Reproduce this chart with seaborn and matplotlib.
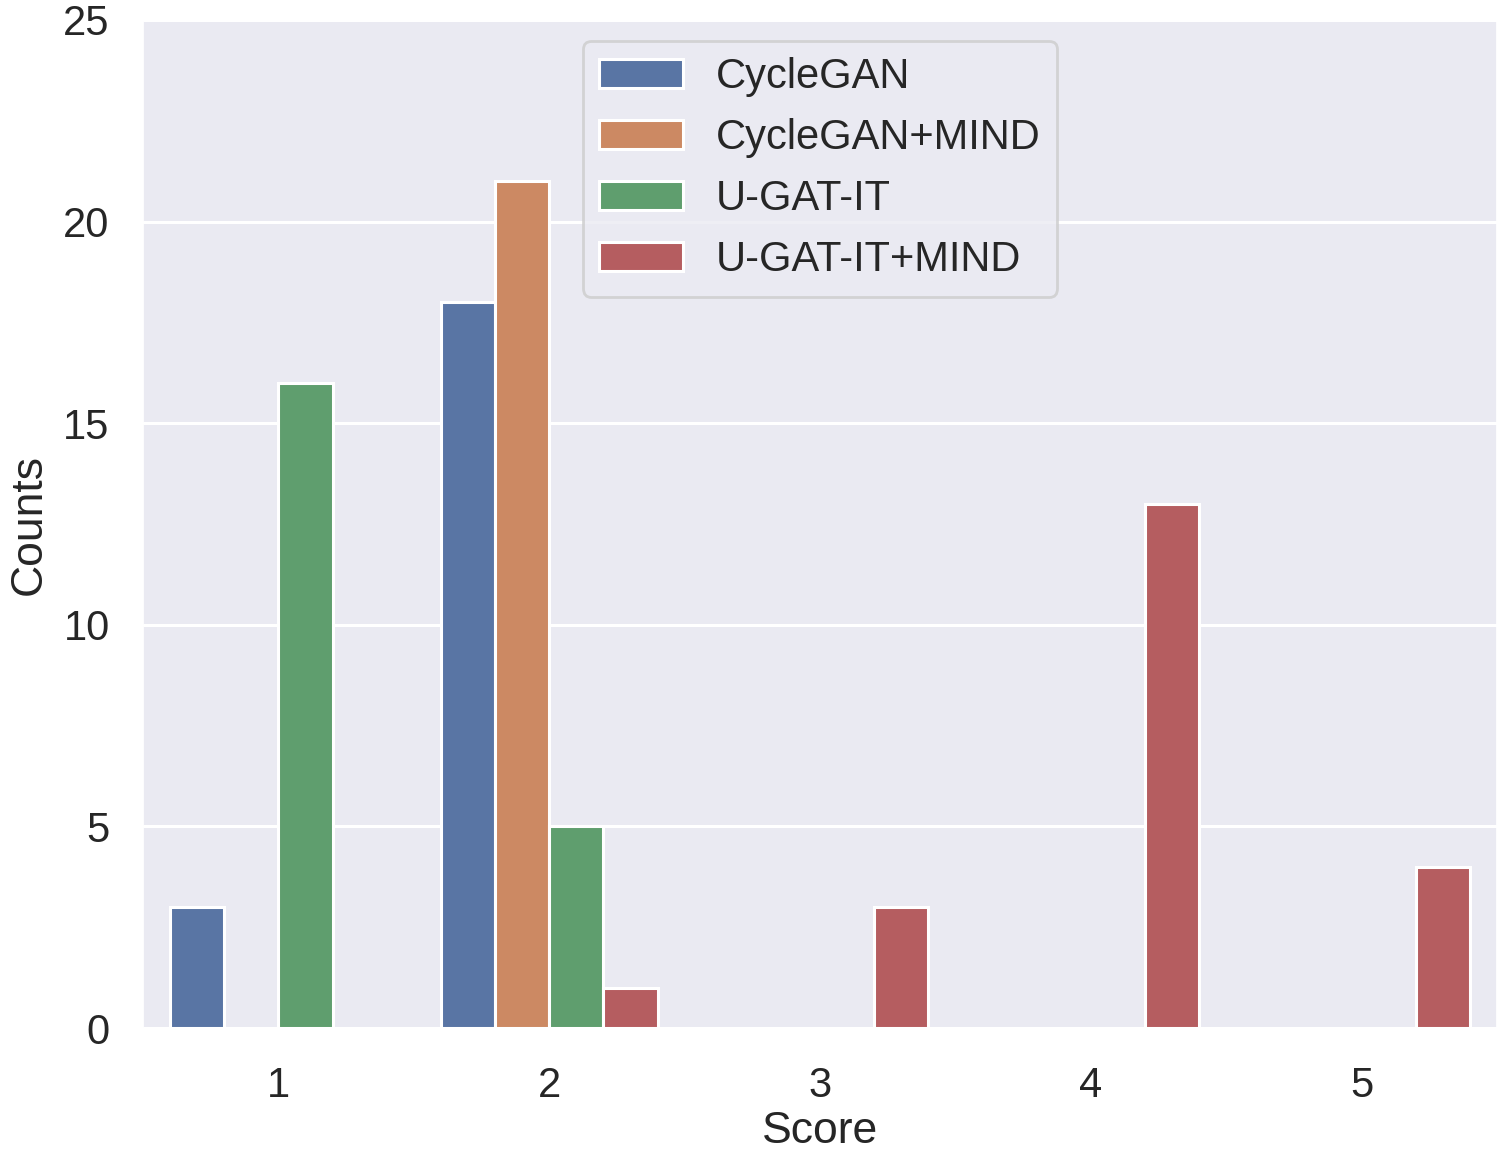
import matplotlib
matplotlib.use("Agg")
import matplotlib.pyplot as plt
import seaborn as sns
import pandas as pd

# 数据
scores = [1, 2, 3, 4, 5]
methods = ['CycleGAN', 'CycleGAN+MIND', 'U-GAT-IT', 'U-GAT-IT+MIND']
cyclegan = [3, 18, 0, 0, 0]
cyclegan_mind = [0, 21, 0, 0, 0]
ugatit = [16, 5, 0, 0, 0]
ugatit_mind = [0, 1, 3, 13, 4]

sns.set_theme(style="darkgrid")
plt.rcParams['font.family'] = ['Liberation Sans', 'DejaVu Sans']

rows = []
for name, vals in zip(methods, [cyclegan, cyclegan_mind, ugatit, ugatit_mind]):
    for s, v in zip(scores, vals):
        rows.append({'Score': s, 'Counts': v, 'Method': name})
df = pd.DataFrame(rows)

fig, ax = plt.subplots(figsize=(14.99, 11.56), dpi=100)
fig.subplots_adjust(left=0.0954, right=0.9987, top=0.9827, bottom=0.1107)

sns.barplot(data=df, x='Score', y='Counts', hue='Method', hue_order=methods,
            edgecolor='white', linewidth=2.2, ax=ax)

ax.set_ylim(0, 25)
ax.set_yticks([0, 5, 10, 15, 20, 25])
ax.tick_params(axis='x', labelsize=30, pad=21)
ax.tick_params(axis='y', labelsize=30, pad=18)
ax.set_xlabel('Score', fontsize=32, labelpad=4)
ax.set_ylabel('Counts', fontsize=32, labelpad=10)
ax.grid(False, axis='x')
ax.grid(True, axis='y', color='white', linewidth=2.2)

leg = ax.legend(loc='upper center', fontsize=30, frameon=True)
leg.get_frame().set_linewidth(2)

plt.savefig('out.png', dpi=100)
